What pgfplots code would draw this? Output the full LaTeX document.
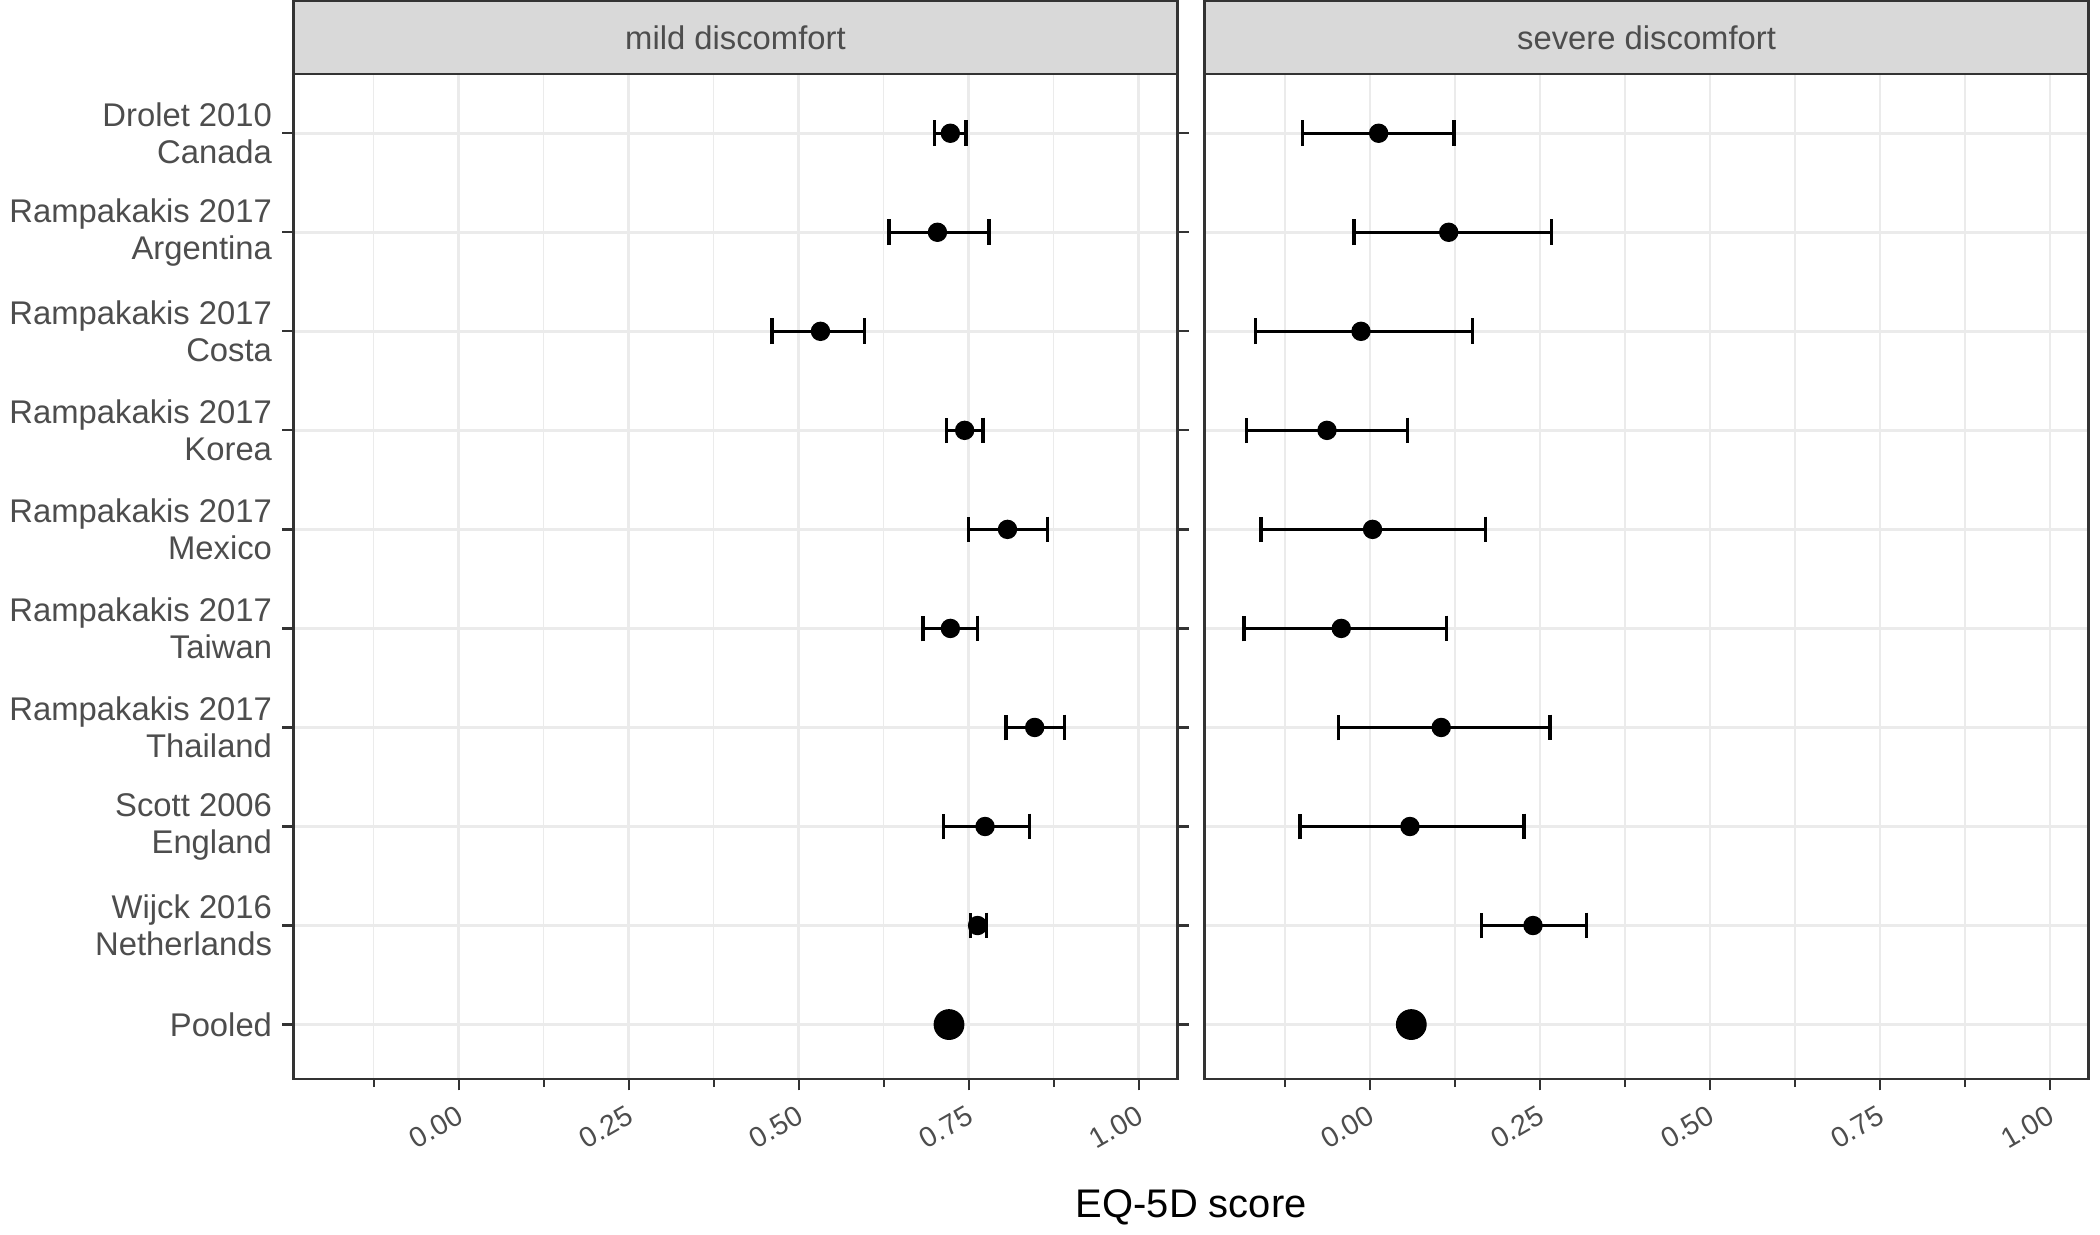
\documentclass[border=0pt]{standalone}
\usepackage{pgfplots}
\pgfplotsset{compat=1.18}
\usepackage{fontspec}
\setmainfont{Liberation Sans}
\definecolor{frame}{HTML}{333333}
\definecolor{gridc}{HTML}{EBEBEB}
\definecolor{strip}{HTML}{D9D9D9}
\definecolor{tickc}{HTML}{4D4D4D}
\pgfplotsset{
 panel/.style={
  scale only axis, width=310pt, height=352.5pt,
  xmin=-0.243, xmax=1.057, ymin=0.4, ymax=10.55, y dir=reverse,
  xtick={0,0.25,0.5,0.75,1}, xticklabels={0.00,0.25,0.50,0.75,1.00},
  minor xtick={-0.125,0.125,0.375,0.625,0.875},
  ytick={1,...,10},
  grid=both, major grid style={gridc,line width=0.9pt}, minor grid style={gridc,line width=0.5pt},
  axis line style={frame,line width=0.8pt},
  tick style={frame,line width=0.8pt}, tick align=outside, major tick length=4pt,
  xticklabel style={rotate=30,anchor=north east,font=\fontsize{10}{12}\selectfont,text=tickc},
  yticklabel style={align=right,font=\fontsize{11.5}{13}\selectfont,text=tickc},
  /pgf/number format/assume math mode=true,
  clip=false,
  error bars/error bar style={line width=1.2pt,black},
  error bars/error mark options={rotate=90,mark size=4.5pt,line width=1.2pt,black},
 }
}
\begin{document}
\begin{tikzpicture}
\begin{axis}[panel, at={(0,0)},
  yticklabels={{Drolet 2010\\Canada},{Rampakakis 2017\\Argentina},{Rampakakis 2017\\Costa},{Rampakakis 2017\\Korea},{Rampakakis 2017\\Mexico},{Rampakakis 2017\\Taiwan},{Rampakakis 2017\\Thailand},{Scott 2006\\England},{Wijck 2016\\Netherlands},{Pooled}},
  xlabel={EQ-5D score}, xlabel style={font=\fontsize{14}{16}\selectfont, at={(1.0155,-0.1)}, anchor=north}]
\draw[fill=strip,draw=frame,line width=0.8pt] (rel axis cs:0,1) rectangle (rel axis cs:1,1.0723);
\node[font=\fontsize{11.5}{13}\selectfont,text=tickc] at (rel axis cs:0.5,1.036) {mild discomfort};
\addplot[only marks, mark=*, mark size=3.2pt, black, error bars/.cd, x dir=both, x explicit] coordinates {
 (0.723,1) -= (0.023,0) += (0.023,0)
 (0.704,2) -= (0.071,0) += (0.076,0)
 (0.532,3) -= (0.071,0) += (0.065,0)
 (0.744,4) -= (0.027,0) += (0.027,0)
 (0.807,5) -= (0.057,0) += (0.059,0)
 (0.723,6) -= (0.040,0) += (0.040,0)
 (0.847,7) -= (0.042,0) += (0.044,0)
 (0.774,8) -= (0.061,0) += (0.065,0)
 (0.763,9) -= (0.010,0) += (0.013,0)
};
\addplot[only marks, mark=*, mark size=5.2pt, black] coordinates {(0.721,10)};
\end{axis}
\begin{axis}[panel, at={(319.5pt,0)}, yticklabels={}, ytick style={draw=none}]
\draw[fill=strip,draw=frame,line width=0.8pt] (rel axis cs:0,1) rectangle (rel axis cs:1,1.0723);
\node[font=\fontsize{11.5}{13}\selectfont,text=tickc] at (rel axis cs:0.5,1.036) {severe discomfort};
\addplot[only marks, mark=*, mark size=3.2pt, black, error bars/.cd, x dir=both, x explicit] coordinates {
 (0.013,1) -= (0.112,0) += (0.111,0)
 (0.116,2) -= (0.139,0) += (0.151,0)
 (-0.013,3) -= (0.155,0) += (0.164,0)
 (-0.063,4) -= (0.118,0) += (0.118,0)
 (0.004,5) -= (0.164,0) += (0.166,0)
 (-0.042,6) -= (0.143,0) += (0.155,0)
 (0.105,7) -= (0.151,0) += (0.160,0)
 (0.059,8) -= (0.162,0) += (0.168,0)
 (0.240,9) -= (0.076,0) += (0.079,0)
};
\addplot[only marks, mark=*, mark size=5.2pt, black] coordinates {(0.061,10)};
\end{axis}
\end{tikzpicture}
\end{document}
